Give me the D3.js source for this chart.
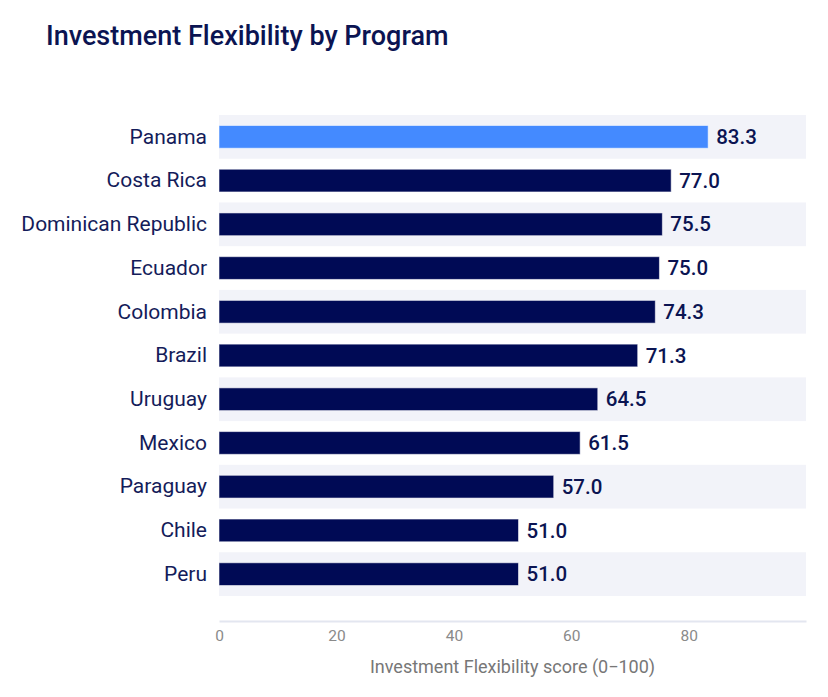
<!DOCTYPE html>
<html>
<head>
<meta charset="utf-8">
<script src="https://cdn.jsdelivr.net/npm/d3@7"></script>
<style>
  html, body { margin: 0; padding: 0; background: #ffffff; }
  svg { display: block; font-family: Roboto, "Noto Sans", sans-serif; }
</style>
</head>
<body>
<svg id="chart" width="828" height="697"></svg>
<script>
const categories = ["Panama", "Costa Rica", "Dominican Republic", "Ecuador", "Colombia", "Brazil", "Uruguay", "Mexico", "Paraguay", "Chile", "Peru"];
const scores = [83.3, 77.0, 75.5, 75.0, 74.3, 71.3, 64.5, 61.5, 57.0, 51.0, 51.0];
const highlighted = ["Panama"];
const xTicks = [0, 20, 40, 60, 80];
const titleText = "Investment Flexibility by Program";
const xAxisLabel = "Investment Flexibility score (0\u2212100)";

const data = categories.map((c, i) => ({ name: c, value: scores[i] }));

const W = 828, H = 697;
const margin = { top: 115, right: 22, bottom: 101, left: 219 };
const svg = d3.select("#chart");

const x = d3.scaleLinear()
  .domain([0, d3.max(scores) * 1.2])
  .range([margin.left, W - margin.right]);

const y = d3.scaleBand()
  .domain(categories)
  .range([margin.top, H - margin.bottom])
  .padding(0);

const barInset = 0.24;

// title
svg.append("text")
  .attr("x", 46).attr("y", 45)
  .attr("fill", "#0b1452")
  .attr("font-size", 27).attr("font-weight", 500)
  .text(titleText);

// alternating row shading
svg.append("g").selectAll("rect")
  .data(data.filter((d, i) => i % 2 === 0))
  .join("rect")
  .attr("x", x.range()[0])
  .attr("width", x.range()[1] - x.range()[0])
  .attr("y", d => y(d.name))
  .attr("height", y.bandwidth())
  .attr("fill", "#f2f3f9");

// bars
svg.append("g").selectAll("rect")
  .data(data)
  .join("rect")
  .attr("x", x(0))
  .attr("y", d => y(d.name) + y.bandwidth() * barInset)
  .attr("width", d => x(d.value) - x(0))
  .attr("height", y.bandwidth() * (1 - 2 * barInset))
  .attr("fill", d => highlighted.includes(d.name) ? "#448aff" : "#000a55")
  .attr("stroke", "rgba(255,255,255,0.55)")
  .attr("stroke-width", 1);

// value labels
svg.append("g").selectAll("text")
  .data(data)
  .join("text")
  .attr("x", d => x(d.value) + 8)
  .attr("y", d => y(d.name) + y.bandwidth() / 2)
  .attr("dy", "0.35em")
  .attr("fill", "#0b1452")
  .attr("font-size", 20.5).attr("font-weight", 500)
  .text(d => d3.format(".1f")(d.value));

// category labels
const yAxis = svg.append("g")
  .attr("transform", `translate(${margin.left},0)`)
  .call(d3.axisLeft(y).tickSize(0).tickPadding(12));
yAxis.select(".domain").remove();
yAxis.selectAll("text")
  .attr("fill", "#141c5a")
  .attr("font-size", 21)
  .attr("font-family", "Roboto, sans-serif");

// x axis
const axisY = H - margin.bottom + 25;
const xAxis = svg.append("g")
  .attr("transform", `translate(0,${axisY})`)
  .call(d3.axisBottom(x).tickValues(xTicks).tickSize(0).tickPadding(9).tickFormat(d3.format("d")));
xAxis.select(".domain").attr("stroke", "#e3e6f0").attr("stroke-width", 2);
xAxis.selectAll("text")
  .attr("fill", "#8a8a8a")
  .attr("font-size", 15.5)
  .attr("font-family", "Roboto, sans-serif");

svg.append("text")
  .attr("x", (x.range()[0] + x.range()[1]) / 2)
  .attr("y", 673)
  .attr("text-anchor", "middle")
  .attr("fill", "#777777")
  .attr("font-size", 18)
  .text(xAxisLabel);
</script>
</body>
</html>
